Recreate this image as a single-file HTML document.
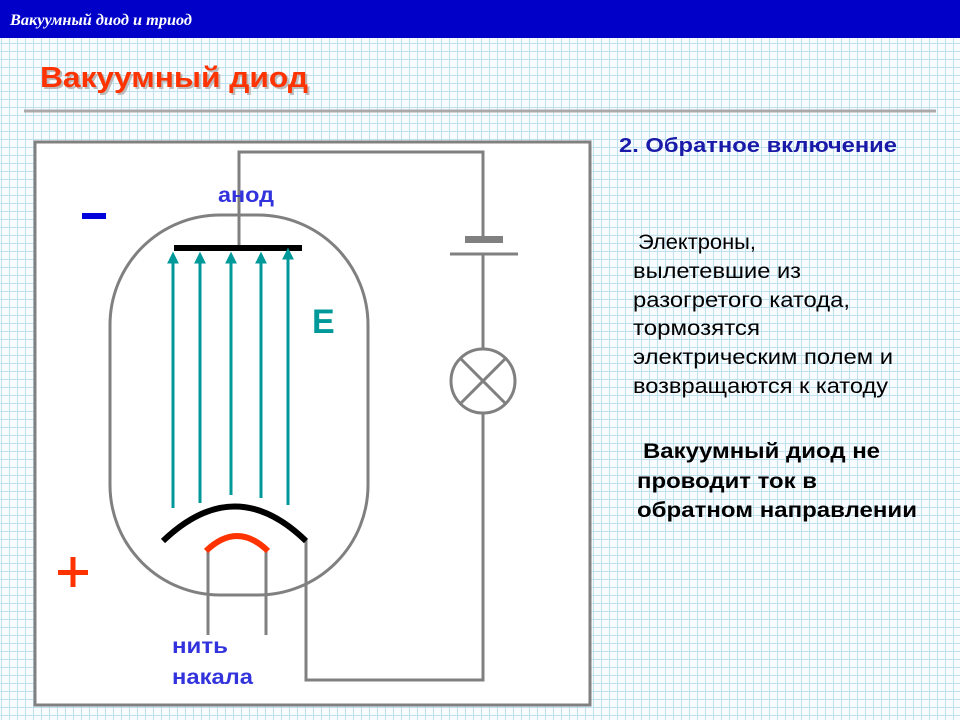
<!DOCTYPE html>
<html><head><meta charset="utf-8"><style>
body{margin:0;width:960px;height:720px;overflow:hidden;font-family:"Liberation Sans",sans-serif;
background-color:#f8fcff;background-image:linear-gradient(#bfe0f0 1px,transparent 1px),linear-gradient(90deg,#bfe0f0 1px,transparent 1px);background-size:8px 8px;background-position:1px 3px;}
text{white-space:pre}
</style></head><body>
<svg width="960" height="720" style="position:absolute;left:0;top:0" font-family="Liberation Sans, sans-serif">
<rect x="0" y="0" width="960" height="38" fill="#0000c8"/>
<text x="10" y="25" fill="#fff" font-family="Liberation Serif, serif" font-style="italic" font-weight="bold" font-size="16" textLength="182" lengthAdjust="spacingAndGlyphs">Вакуумный диод и триод</text>
<text x="42" y="89" fill="#bbb" font-size="29" font-weight="bold" textLength="268" lengthAdjust="spacingAndGlyphs">Вакуумный диод</text>
<text x="40" y="87" fill="#ff3300" font-size="29" font-weight="bold" textLength="268" lengthAdjust="spacingAndGlyphs">Вакуумный диод</text>
<line x1="24" y1="111" x2="936" y2="111" stroke="#aaa" stroke-width="3"/>
<rect x="35" y="142" width="555" height="563" fill="#fff" stroke="#808080" stroke-width="3"/>
<g stroke="#808080" stroke-width="3" fill="none">
<rect x="110" y="215" width="258" height="380" rx="110" ry="110" fill="#fff"/>
<polyline points="239,248 239,152 483,152 483,238"/>
<line x1="450" y1="254" x2="518" y2="254"/>
<line x1="483" y1="254" x2="483" y2="349"/>
<circle cx="483" cy="381" r="32"/>
<line x1="460" y1="358" x2="506" y2="404"/><line x1="506" y1="358" x2="460" y2="404"/>
<polyline points="483,413 483,680 306,680 306,540"/>
<line x1="208" y1="551" x2="208" y2="635"/><line x1="266" y1="551" x2="266" y2="635"/>
</g>
<rect x="465" y="236" width="38" height="7" fill="#808080"/>
<rect x="174" y="245" width="128" height="6" fill="#000"/>
<path d="M163,541 Q235,472 306,541" stroke="#000" stroke-width="6" fill="none"/>
<path d="M206,551 Q237,521 268,551" stroke="#ff3300" stroke-width="6" fill="none"/>
<g stroke="#009999" stroke-width="3" fill="#009999">
<line x1="173" y1="508" x2="173" y2="260"/><path d="M169.5,262 L173,255 L176.5,262Z"/>
<line x1="200" y1="503" x2="200" y2="260"/><path d="M196.5,262 L200,255 L203.5,262Z"/>
<line x1="231" y1="495" x2="231" y2="260"/><path d="M227.5,262 L231,255 L234.5,262Z"/>
<line x1="261" y1="498" x2="261" y2="260"/><path d="M257.5,262 L261,255 L264.5,262Z"/>
<line x1="288" y1="505" x2="288" y2="256"/><path d="M284.5,258 L288,251 L291.5,258Z"/>
</g>
<g lengthAdjust="spacingAndGlyphs">
<text x="218" y="202" fill="#3333dd" font-size="21" font-weight="bold" textLength="56" lengthAdjust="spacingAndGlyphs">анод</text>
<text x="172" y="653" fill="#3333dd" font-size="21" font-weight="bold" textLength="56" lengthAdjust="spacingAndGlyphs">нить</text>
<text x="172" y="684" fill="#3333dd" font-size="21" font-weight="bold" textLength="81" lengthAdjust="spacingAndGlyphs">накала</text>
<text x="619" y="152" fill="#1a1aa8" font-size="20" font-weight="bold" textLength="278" lengthAdjust="spacingAndGlyphs">2. Обратное включение</text>
<g font-size="21" fill="#000">
<text x="638" y="249" textLength="118" lengthAdjust="spacingAndGlyphs">Электроны,</text>
<text x="633" y="278" textLength="168" lengthAdjust="spacingAndGlyphs">вылетевшие из</text>
<text x="633" y="307" textLength="217" lengthAdjust="spacingAndGlyphs">разогретого катода,</text>
<text x="633" y="335" textLength="127" lengthAdjust="spacingAndGlyphs">тормозятся</text>
<text x="633" y="364" textLength="260" lengthAdjust="spacingAndGlyphs">электрическим полем и</text>
<text x="633" y="393" textLength="255" lengthAdjust="spacingAndGlyphs">возвращаются к катоду</text>
</g>
<g font-size="21" fill="#000" font-weight="bold">
<text x="643" y="458" textLength="237" lengthAdjust="spacingAndGlyphs">Вакуумный диод не</text>
<text x="637" y="488" textLength="180" lengthAdjust="spacingAndGlyphs">проводит ток в</text>
<text x="637" y="517" textLength="280" lengthAdjust="spacingAndGlyphs">обратном направлении</text>
</g>
</g>
<rect x="82" y="213" width="24" height="6" fill="#0000dd"/>
<text x="312" y="333" fill="#009999" font-size="34" font-weight="bold">E</text>
<rect x="58" y="570" width="30" height="5" fill="#ff3300"/><rect x="70.5" y="557" width="5" height="30" fill="#ff3300"/>
</svg>
</body></html>
